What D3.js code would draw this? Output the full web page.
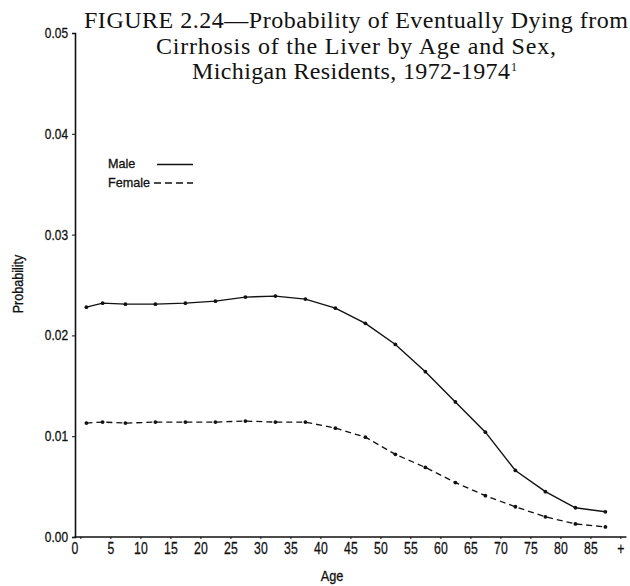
<!DOCTYPE html>
<html>
<head>
<meta charset="utf-8">
<script src="https://cdn.jsdelivr.net/npm/d3@7"></script>
<style>
  body { margin: 0; background: #fff; }
  svg { display: block; }
  .tick text, .lab { font-family: "Liberation Sans", Arial, sans-serif; fill: #111; stroke: #111; stroke-width: 0.3px; }
  .title { font-family: "Liberation Serif", "DejaVu Serif", serif; fill: #111; }
</style>
</head>
<body>
<svg width="630" height="586"></svg>
<script>
// age group midpoints (last group is 85+)
var ages = [1, 3.7, 7.5, 12.5, 17.5, 22.5, 27.5, 32.5, 37.5, 42.5, 47.5,
            52.5, 57.5, 62.5, 67.5, 72.5, 77.5, 82.5, 87.5];
var male = [0.0228, 0.0232, 0.0231, 0.0231, 0.0232, 0.0234, 0.0238, 0.0239, 0.0236, 0.0227,
            0.0212, 0.0191, 0.0164, 0.0134, 0.0104, 0.0066, 0.0045, 0.0029, 0.0025];
var female = [0.0113, 0.0114, 0.0113, 0.0114, 0.0114, 0.0114, 0.0115, 0.0114, 0.0114, 0.0108,
              0.0099, 0.0082, 0.0069, 0.0054, 0.0041, 0.0030, 0.0020, 0.0013, 0.0010];
var xTicks = [0, 5, 10, 15, 20, 25, 30, 35, 40, 45, 50, 55, 60, 65, 70, 75, 80, 85, 90];
var yTicks = [0, 0.01, 0.02, 0.03, 0.04, 0.05];
var titleLines = ["FIGURE 2.24\u2014Probability of Eventually Dying from",
                  "Cirrhosis of the Liver by Age and Sex,",
                  "Michigan Residents, 1972-1974"];
var titleWidths = [544, 400, 318];

var svg = d3.select("svg");

var x = d3.scaleLinear().domain([-1, 90]).range([74.4, 620.4]);
var y = d3.scaleLinear().domain([0, 0.05]).range([537, 33]);

// y axis (condensed labels)
var yAxis = svg.append("g")
    .attr("transform", "translate(75,0)")
    .call(d3.axisLeft(y).tickValues(yTicks).tickSize(3).tickFormat(d3.format(".2f")));
yAxis.select(".domain").attr("stroke", "#111").attr("stroke-width", 1.6);
yAxis.selectAll(".tick line").attr("stroke", "#111");
yAxis.selectAll(".tick text").attr("font-size", 14)
    .attr("transform", "scale(0.85,1)").attr("x", -7 / 0.85);

// x axis
var xAxis = svg.append("g")
    .attr("transform", "translate(0,537)")
    .call(d3.axisBottom(x).tickValues(xTicks).tickSize(2)
      .tickFormat(function(d) { return d == 90 ? "+" : d; }));
xAxis.select(".domain").attr("stroke", "#111").attr("stroke-width", 1.6)
    .attr("d", "M" + x(-1) + ",0H" + x(91));
xAxis.selectAll(".tick line").attr("stroke", "#111");
xAxis.selectAll(".tick text").attr("font-size", 17).attr("y", 5)
    .attr("transform", "scale(0.72,1)");
xAxis.selectAll(".tick").filter(function(d) { return d == 0; })
    .select("text").attr("dx", -6 / 0.72);

// axis titles
svg.append("text").attr("class", "lab")
    .attr("transform", "translate(332,581) scale(0.85,1)")
    .attr("text-anchor", "middle").attr("font-size", 15)
    .text("Age");
svg.append("text").attr("class", "lab")
    .attr("transform", "translate(23,284) rotate(-90) scale(0.9,1)")
    .attr("text-anchor", "middle").attr("font-size", 14)
    .text("Probability");

// lines
var line = d3.line()
    .x(function(d, i) { return x(ages[i]); })
    .y(function(d) { return y(d); });

svg.append("path").datum(male)
    .attr("fill", "none").attr("stroke", "#111").attr("stroke-width", 1.4)
    .attr("d", line);
svg.append("path").datum(female)
    .attr("fill", "none").attr("stroke", "#111").attr("stroke-width", 1.3)
    .attr("stroke-dasharray", "6,4")
    .attr("d", line);

[male, female].forEach(function(s) {
  svg.append("g").selectAll("circle")
    .data(s)
    .enter().append("circle")
    .attr("cx", function(d, i) { return x(ages[i]); })
    .attr("cy", function(d) { return y(d); })
    .attr("r", 1.9)
    .attr("fill", "#111");
});

// legend
var legend = svg.append("g");
legend.append("text").attr("class", "lab").attr("x", 108).attr("y", 168)
    .attr("font-size", 12.6).text("Male");
legend.append("text").attr("class", "lab").attr("x", 108).attr("y", 187)
    .attr("font-size", 12.6).text("Female");
legend.append("line").attr("x1", 157).attr("x2", 193).attr("y1", 164.5).attr("y2", 164.5)
    .attr("stroke", "#111").attr("stroke-width", 1.3);
legend.append("line").attr("x1", 154).attr("x2", 193).attr("y1", 183).attr("y2", 183)
    .attr("stroke", "#111").attr("stroke-width", 1.3).attr("stroke-dasharray", "7,4");

// title
var title = svg.append("g");
titleLines.forEach(function(t, i) {
  title.append("text").attr("class", "title")
      .attr("x", i == 2 ? 351 : 356).attr("y", 28 + i * 25.5)
      .attr("text-anchor", "middle")
      .style("font-size", "24px")
      .attr("textLength", titleWidths[i]).attr("lengthAdjust", "spacing")
      .text(t);
});
title.append("text").attr("class", "title")
    .attr("x", 351 + titleWidths[2] / 2 + 1).attr("y", 28 + 2 * 25.5 - 8)
    .style("font-size", "12px")
    .text("1");
</script>
</body>
</html>
